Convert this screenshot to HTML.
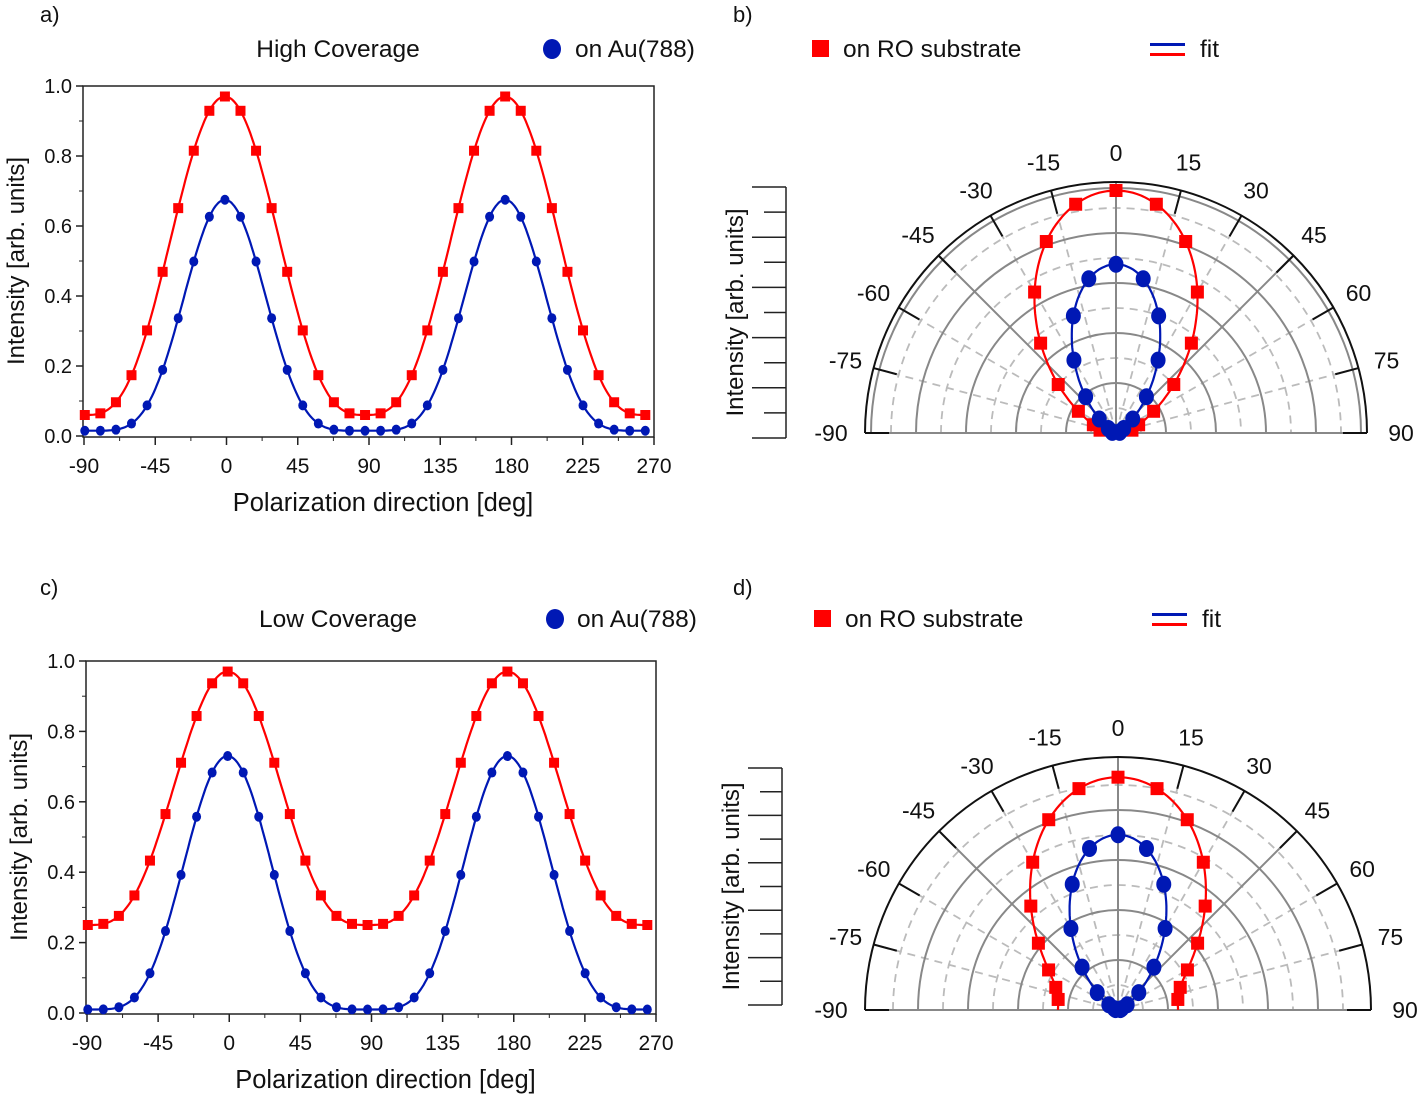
<!DOCTYPE html>
<html><head><meta charset="utf-8"><style>
html,body{margin:0;padding:0;background:#fff;}
svg text{font-family:"Liberation Sans",Arial,sans-serif;fill:#111;}
</style></head><body>
<svg id="s" width="1421" height="1099" viewBox="0 0 1421 1099" xmlns="http://www.w3.org/2000/svg"></svg>
<script>
const S=document.getElementById('s');let h='';
function f(t,b,a,n,c,P){const p=Math.PI*(t-c)/P;return b+a*Math.pow(Math.abs(Math.cos(p)),2*n);}
function txt(x,y,s,sz,anc,extra){h+=`<text x="${x}" y="${y}" font-size="${sz}" text-anchor="${anc||'start'}" ${extra||''}>${s}</text>`;}
txt(40,22,'a)',22);txt(733,22,'b)',22);
txt(338,57,'High Coverage',24.5,'middle');
h+=`<ellipse cx="552" cy="49" rx="9" ry="10" fill="#0018b4"/>`;txt(575,57,'on Au(788)',24.5);
h+=`<rect x="812" y="40" width="17" height="17" fill="#f00"/>`;txt(843,57,'on RO substrate',24.5);
h+=`<rect x="1150" y="43" width="35" height="3" fill="#0018b4"/><rect x="1150" y="53" width="35" height="3" fill="#f00"/>`;txt(1200,57,'fit',24.5);
txt(40,595,'c)',22);txt(733,595,'d)',22);
txt(338,627,'Low Coverage',24.5,'middle');
h+=`<ellipse cx="555" cy="619" rx="9" ry="10" fill="#0018b4"/>`;txt(577,627,'on Au(788)',24.5);
h+=`<rect x="814" y="610" width="17" height="17" fill="#f00"/>`;txt(845,627,'on RO substrate',24.5);
h+=`<rect x="1152" y="613" width="35" height="3" fill="#0018b4"/><rect x="1152" y="623" width="35" height="3" fill="#f00"/>`;txt(1202,627,'fit',24.5);

function cart(x0,x1,y0,y1,R,B){
  const X=t=>x0+(t+90)*(x1-x0)/360, Y=v=>y0-v*(y0-y1);
  h+=`<rect x="${x0-1}" y="${y1}" width="${x1-x0+1}" height="${y0-y1+1}" fill="none" stroke="#222" stroke-width="1.5"/>`;
  for(let v=0;v<=1.001;v+=0.2){const y=Y(v);h+=`<line x1="${x0-1}" x2="${x0-8}" y1="${y}" y2="${y}" stroke="#222" stroke-width="1.5"/>`;txt(x0-12,y+7,v.toFixed(1),20,'end');}
  for(let v=0.1;v<1;v+=0.2){const y=Y(v);h+=`<line x1="${x0-1}" x2="${x0-5}" y1="${y}" y2="${y}" stroke="#222"/>`;}
  for(let t=-90;t<=270;t+=45){const x=X(t);h+=`<line x1="${x}" x2="${x}" y1="${y0+1}" y2="${y0+9}" stroke="#222" stroke-width="1.5"/>`;txt(x,y0+37,t,21,'middle');}
  for(let t=-67.5;t<270;t+=45){const x=X(t);h+=`<line x1="${x}" x2="${x}" y1="${y0+1}" y2="${y0+5}" stroke="#222"/>`;}
  txt((x0+x1)/2+14,y0+75,'Polarization direction [deg]',25.5,'middle');
  txt(0,0,'Intensity [arb. units]',24,'middle',`transform="translate(${x0-60},${(y0+y1)/2}) rotate(-90)"`);
  for(const [p,col,sq] of [[B,'#0018b4',0],[R,'#f00',1]]){
    let d='';for(let t=-90;t<=266;t+=1){d+=(t==-90?'M':'L')+X(t).toFixed(1)+','+Y(f(t,...p,-1,177)).toFixed(1);}
    h+=`<path d="${d}" fill="none" stroke="${col}" stroke-width="2.2"/>`;
    for(let k=-9;k<=27;k++){const t=-1+k*177/18;if(t<-90||t>268)continue;const x=X(t),y=Y(f(t,...p,-1,177));
      h+=sq?`<rect x="${x-5}" y="${y-5}" width="10" height="10" fill="${col}"/>`:`<ellipse cx="${x}" cy="${y}" rx="4.5" ry="5" fill="${col}"/>`;}
  }
}
cart(84,654,436,86,[0.06,0.91,1.5],[0.015,0.66,2.5]);
cart(87,656,1013,661,[0.25,0.72,1.55],[0.01,0.72,2.2]);

function polar(cx,cy,Rr,sc,R,B,ax,ay0,ay1,gray){
  const P=(t,r)=>[cx+r*Math.sin(t*Math.PI/180),cy-r*Math.cos(t*Math.PI/180)];
  for(let r=25;r<Rr;r+=50){h+=`<path d="M${cx-r},${cy} A${r},${r} 0 0 1 ${cx+r},${cy}" fill="none" stroke="#bbb" stroke-width="1.8" stroke-dasharray="8,6"/>`;}
  for(const t of [-75,-60,-30,-15,15,30,60,75]){const [x,y]=P(t,Rr-5);h+=`<line x1="${cx}" y1="${cy}" x2="${x}" y2="${y}" stroke="#bbb" stroke-width="1.8" stroke-dasharray="8,6"/>`;}
  for(let r=50;r<Rr-10;r+=50){h+=`<path d="M${cx-r},${cy} A${r},${r} 0 0 1 ${cx+r},${cy}" fill="none" stroke="#888" stroke-width="2"/>`;}
  if(gray)h+=`<path d="M${cx-Rr+6},${cy} A${Rr-6},${Rr-6} 0 0 1 ${cx+Rr-6},${cy}" fill="none" stroke="#888" stroke-width="2"/>`;
  for(const t of [-45,0,45]){const [x,y]=P(t,Rr);h+=`<line x1="${cx}" y1="${cy}" x2="${x}" y2="${y}" stroke="#888" stroke-width="2"/>`;}
  h+=`<line x1="${cx-Rr}" y1="${cy}" x2="${cx+Rr}" y2="${cy}" stroke="#888" stroke-width="2"/>`;
  h+=`<path d="M${cx-Rr},${cy} A${Rr},${Rr} 0 0 1 ${cx+Rr},${cy}" fill="none" stroke="#111" stroke-width="2"/>`;
  for(let t=-90;t<=90;t+=15){const [x1,y1]=P(t,Rr),[x2,y2]=P(t,Rr-(t==0?0:24));h+=`<line x1="${x1}" y1="${y1}" x2="${x2}" y2="${y2}" stroke="#111" stroke-width="2"/>`;
    const [lx,ly]=P(t,Rr+(Math.abs(t)==90?34:29));txt(lx.toFixed(1),(ly+8).toFixed(1),t,23,'middle');}
  for(const [p,col,sq] of [[R,'#f00',1],[B,'#0018b4',0]]){
    let d='';for(let t=-90;t<=90;t+=1){const [x,y]=P(t,sc*f(t,...p,0,180));d+=(t==-90?'M':'L')+x.toFixed(1)+','+y.toFixed(1);}
    h+=`<path d="${d}" fill="none" stroke="${col}" stroke-width="2.2"/>`;
    for(let t=-80;t<=80;t+=10){const [x,y]=P(t,sc*f(t,...p,0,180));
      h+=sq?`<rect x="${x-6.5}" y="${y-6.5}" width="13" height="13" fill="${col}"/>`:`<ellipse cx="${x}" cy="${y}" rx="7.5" ry="8.5" fill="${col}"/>`;}
  }
  h+=`<line x1="${ax}" y1="${ay0}" x2="${ax}" y2="${ay1}" stroke="#222" stroke-width="1.5"/>`;
  const n=10;for(let i=0;i<=n;i++){const y=ay1-(ay1-ay0)*i/n;h+=`<line x1="${ax}" x2="${ax-(i%2?22:34)}" y1="${y}" y2="${y}" stroke="#222" stroke-width="1.5"/>`;}
  txt(0,0,'Intensity [arb. units]',24,'middle',`transform="translate(${ax-43},${(ay0+ay1)/2}) rotate(-90)"`);
}
polar(1116,433,251,250,[0.06,0.91,1.5],[0.015,0.66,2.5],786,187,438,true);
polar(1118,1010,253,240,[0.25,0.72,1.55],[0.01,0.72,2.2],782,768,1005,false);
S.innerHTML=h;
</script>
</body></html>
